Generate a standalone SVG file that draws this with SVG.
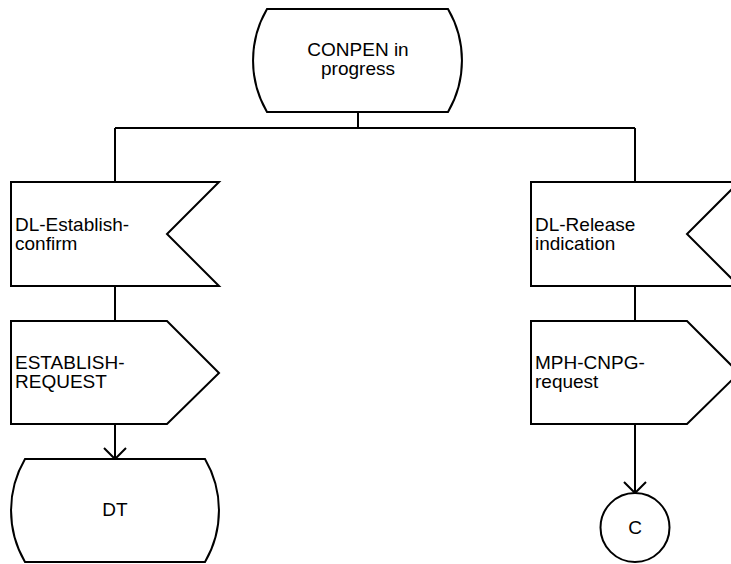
<svg xmlns="http://www.w3.org/2000/svg" width="731" height="564" viewBox="0 0 731 564">
<style>
.s{fill:#fff;stroke:#000;stroke-width:2}
.c{fill:none;stroke:#000;stroke-width:2}
text{font-family:"Liberation Sans",Arial,sans-serif;font-size:19px;fill:#000}
.m{text-anchor:middle}
</style>
<defs>
<marker id="v" viewBox="0 0 24 24" refX="12" refY="12" markerWidth="24" markerHeight="24" markerUnits="userSpaceOnUse" orient="auto">
<path d="M1,1 L12,12 L1,23" fill="none" stroke="#000" stroke-width="2"/>
</marker>
</defs>
<rect width="731" height="564" fill="#fff"/>
<g id="connectors">
<path class="c" d="M358,112 V128"/>
<path class="c" d="M115,128 H635"/>
<path class="c" d="M115,128 V182"/>
<path class="c" d="M635,128 V182"/>
<path class="c" d="M115,286 V321"/>
<path class="c" d="M635,286 V321"/>
<path class="c" d="M115,424 V459" marker-end="url(#v)"/>
<path class="c" d="M635,424 V493" marker-end="url(#v)"/>
</g>
<g id="state-conpen">
<path class="s" d="M267,9 H448 A102,102 0 0 1 448,112 H267 A102,102 0 0 1 267,9 Z"/>
<text class="m" x="358" y="56">CONPEN in</text>
<text class="m" x="358" y="75">progress</text>
</g>
<g id="input-establish-confirm">
<path class="s" d="M11,182 H219 L167,234 L219,286 H11 Z"/>
<text x="15" y="231">DL-Establish-</text>
<text x="15" y="250">confirm</text>
</g>
<g id="input-release-indication">
<path class="s" d="M531,182 H739 L687,234 L739,286 H531 Z"/>
<text x="535" y="231">DL-Release</text>
<text x="535" y="250">indication</text>
</g>
<g id="output-establish-request">
<path class="s" d="M11,321 H167 L219,373 L167,424 H11 Z"/>
<text x="15" y="369">ESTABLISH-</text>
<text x="15" y="388">REQUEST</text>
</g>
<g id="output-mph-cnpg">
<path class="s" d="M531,321 H687 L739,373 L687,424 H531 Z"/>
<text x="535" y="369">MPH-CNPG-</text>
<text x="535" y="388">request</text>
</g>
<g id="state-dt">
<path class="s" d="M25,459 H205 A102,102 0 0 1 205,562 H25 A102,102 0 0 1 25,459 Z"/>
<text class="m" x="115" y="516">DT</text>
</g>
<g id="connector-c">
<circle class="s" cx="635" cy="527.5" r="34.5"/>
<text class="m" x="635" y="534">C</text>
</g>
</svg>
